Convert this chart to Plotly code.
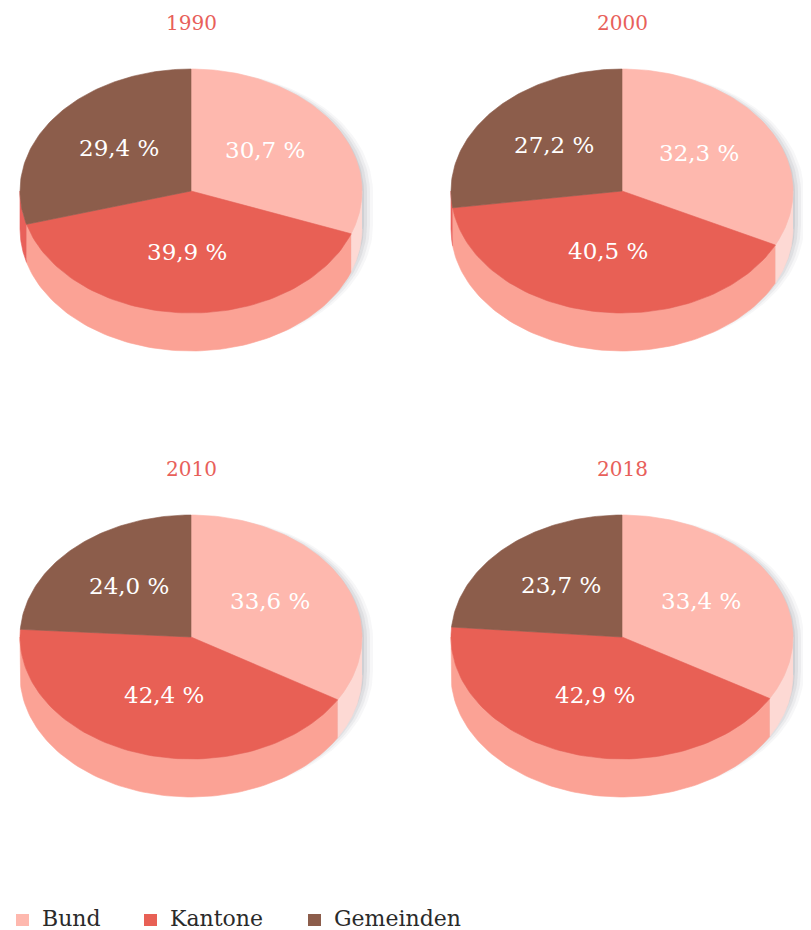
import numpy as np
import plotly.graph_objects as go

# ---------------- data ----------------
years = ["1990", "2000", "2010", "2018"]
categories = ["Bund", "Kantone", "Gemeinden"]
bund = [30.7, 32.3, 33.6, 33.4]
kantone = [39.9, 40.5, 42.4, 42.9]
gemeinden = [29.4, 27.2, 24.0, 23.7]

# ---------------- style ----------------
W, H = 811, 930
OFF = 8  # page body margin
FONT = "DejaVu Serif"
top_colors = ["#feb8ae", "#e86055", "#8c5d4b"]
side_colors = ["#fdd9d4", "#fba295", "#e8605a"]
title_color = "#e8605a"
centers = [(191, 191), (622, 191), (191, 637), (622, 637)]
RX, RY, DEPTH = 171, 122, 38
LABEL_R = 0.53
LABEL_DY = -4
legend_x = [16, 144, 308]
legend_y = 919

fig = go.Figure()


def arc(cx, cy, a0, a1, n=90):
    th = np.radians(np.linspace(a0, a1, n))
    return cx + RX * np.sin(th), cy - RY * np.cos(th)


def poly(x, y, color, opacity=1.0, lw=0.6):
    fig.add_trace(go.Scatter(
        x=list(x), y=list(y), mode="lines", fill="toself",
        fillcolor=color, line=dict(color=color, width=lw),
        opacity=opacity, hoverinfo="skip", showlegend=False))


annotations = []
for i, year in enumerate(years):
    cx, cy = centers[i]
    vals = np.array([bund[i], kantone[i], gemeinden[i]])
    cum = np.concatenate([[0], np.cumsum(vals)]) / vals.sum() * 360.0

    # soft shadow on the right
    for dx, op in [(11, 0.05), (8, 0.07), (5, 0.09), (2, 0.12)]:
        ux, uy = arc(cx + dx, cy + 2, -90, 90)
        lx, ly = arc(cx + dx, cy + DEPTH - 4, 90, 270)
        poly(np.concatenate([ux, lx]), np.concatenate([uy, ly]),
             "rgb(100,105,115)", opacity=op, lw=0)

    # side walls (front half only)
    for k in range(3):
        a, b = max(cum[k], 90.0), min(cum[k + 1], 270.0)
        if a < b:
            tx, ty = arc(cx, cy, a, b)
            bx, by = arc(cx, cy + DEPTH, b, a)
            poly(np.concatenate([tx, bx]), np.concatenate([ty, by]), side_colors[k])

    # top faces
    for k in range(3):
        ax_, ay_ = arc(cx, cy, cum[k], cum[k + 1])
        poly(np.concatenate([[cx], ax_, [cx]]), np.concatenate([[cy], ay_, [cy]]),
             top_colors[k])

    # labels
    for k in range(3):
        mid = np.radians((cum[k] + cum[k + 1]) / 2)
        lx = cx + RX * LABEL_R * np.sin(mid)
        ly = cy - RY * LABEL_R * np.cos(mid) + LABEL_DY
        annotations.append(dict(
            x=lx, y=ly, xref="x", yref="y", showarrow=False,
            text=f"{vals[k]:.1f} %".replace(".", ","),
            font=dict(family=FONT, size=23, color="white")))

    annotations.append(dict(
        x=cx, y=cy - 168, xref="x", yref="y", showarrow=False, text=year,
        font=dict(family=FONT, size=20, color=title_color)))

# legend
shapes = []
for k, name in enumerate(categories):
    shapes.append(dict(type="rect", xref="x", yref="y",
                       x0=legend_x[k], x1=legend_x[k] + 13,
                       y0=legend_y - 5, y1=legend_y + 7,
                       fillcolor=top_colors[k], line=dict(width=0)))
    annotations.append(dict(
        x=legend_x[k] + 24, y=legend_y - 1, xref="x", yref="y",
        xanchor="left", showarrow=False, text=name,
        font=dict(family=FONT, size=22, color="#2a2a2a")))

fig.update_layout(
    width=W - OFF, height=H - OFF,
    margin=dict(l=0, r=0, t=0, b=0),
    paper_bgcolor="white", plot_bgcolor="white",
    xaxis=dict(range=[OFF, W], visible=False, fixedrange=True),
    yaxis=dict(range=[H, OFF], visible=False, fixedrange=True),
    annotations=annotations, shapes=shapes, showlegend=False,
)

fig.write_html("out.html")
